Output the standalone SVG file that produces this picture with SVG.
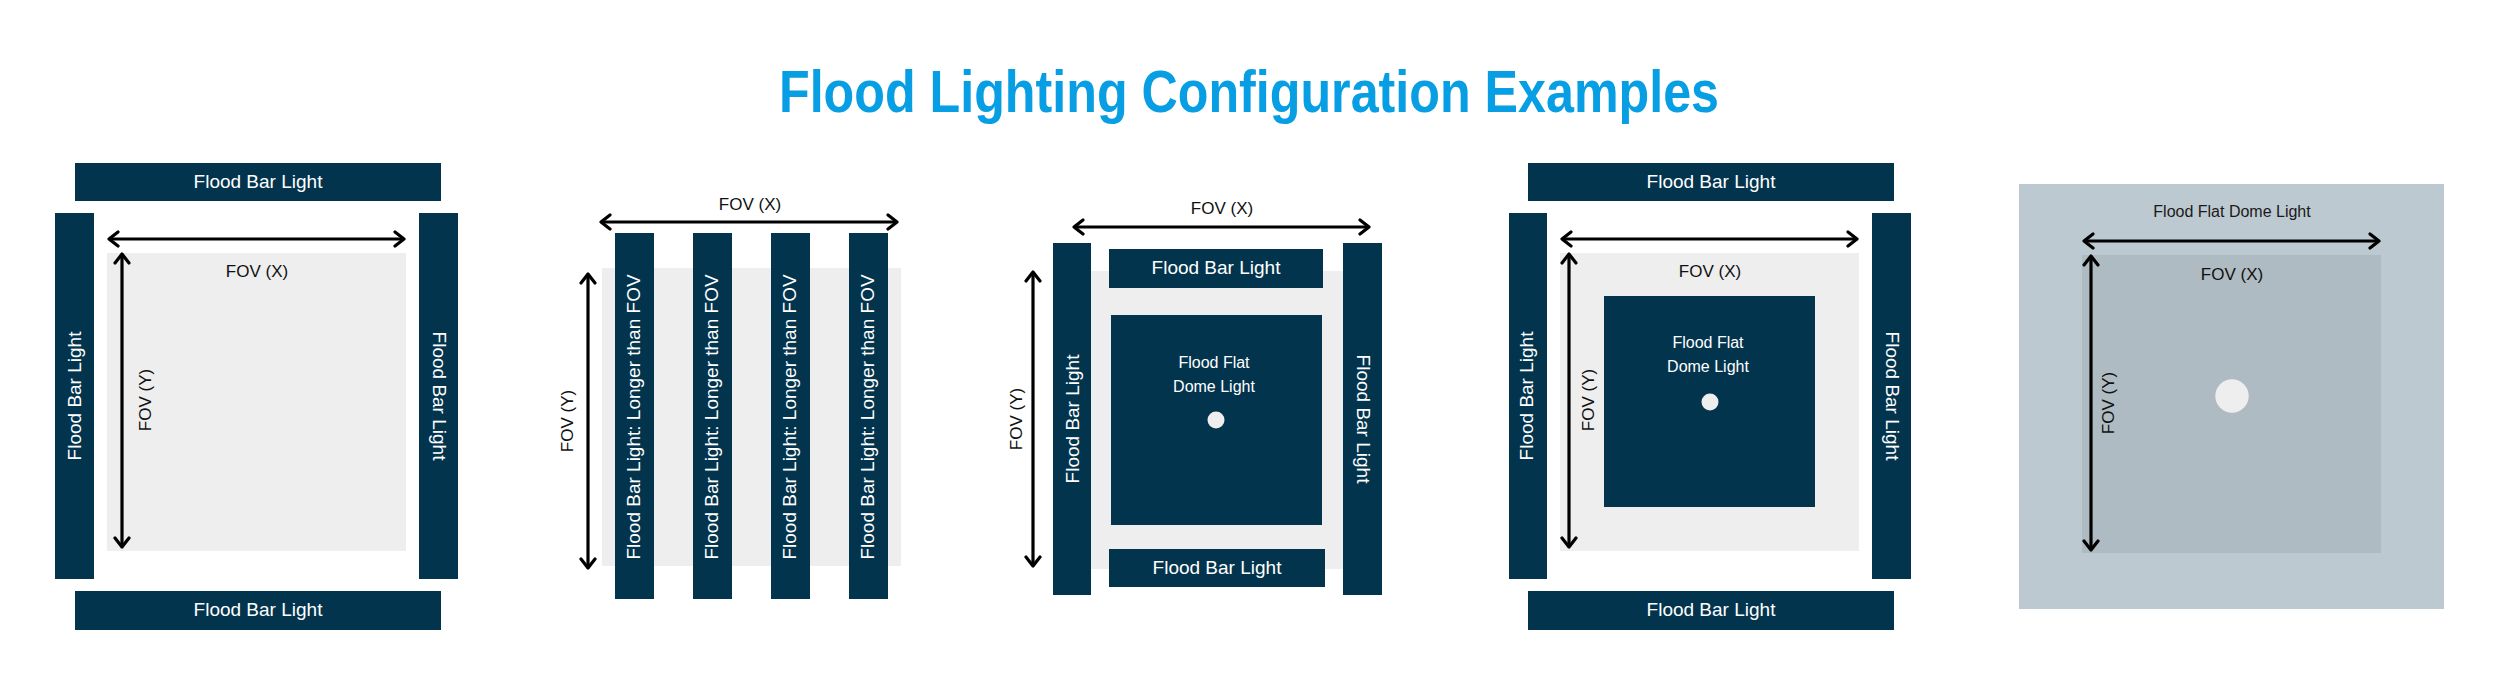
<svg xmlns="http://www.w3.org/2000/svg" width="2500" height="694" viewBox="0 0 2500 694">
<style>
.bar{fill:#02344e}
.fov{fill:#eeeeee}
.bt{font-family:"Liberation Sans",Arial,sans-serif;font-size:19px;fill:#ffffff;text-anchor:middle}
.dt{font-family:"Liberation Sans",Arial,sans-serif;font-size:16px;fill:#ffffff;text-anchor:middle}
.lt{font-family:"Liberation Sans",Arial,sans-serif;font-size:17px;fill:#111111;text-anchor:middle}
.arr{stroke:#000000;stroke-width:3.2;fill:none;marker-start:url(#ah);marker-end:url(#ah)}
.dot{fill:#eeeeee}
.title{font-family:"Liberation Sans",Arial,sans-serif;font-weight:bold;font-size:60px;fill:#079ee3;text-anchor:middle}
</style>
<defs>
<marker id="ah" markerUnits="userSpaceOnUse" viewBox="-12 -9 14 18" refX="0" refY="0" markerWidth="14" markerHeight="18" orient="auto-start-reverse">
<path d="M-9,-7 L0,0 L-9,7" fill="none" stroke="#000000" stroke-width="3.2" stroke-linecap="round" stroke-linejoin="round"/>
</marker>
</defs>
<rect width="2500" height="694" fill="#ffffff"/>
<text class="title" x="1249" y="112" textLength="940" lengthAdjust="spacingAndGlyphs">Flood Lighting Configuration Examples</text>

<!-- Panel 1 -->
<g id="p1-fov"><rect class="fov" x="107" y="253" width="299" height="298"/></g>
<g id="p1-top"><rect class="bar" x="75" y="163" width="366" height="38"/><text class="bt" x="258" y="188">Flood Bar Light</text></g>
<g id="p1-bottom"><rect class="bar" x="75" y="591" width="366" height="39"/><text class="bt" x="258" y="616">Flood Bar Light</text></g>
<g id="p1-left"><rect class="bar" x="55" y="213" width="39" height="366"/><text class="bt" transform="translate(81,396) rotate(-90)">Flood Bar Light</text></g>
<g id="p1-right"><rect class="bar" x="419" y="213" width="39" height="366"/><text class="bt" transform="translate(433,396) rotate(90)">Flood Bar Light</text></g>
<g id="p1-labels"><text class="lt" x="257" y="277">FOV (X)</text><text class="lt" transform="translate(151,400) rotate(-90)">FOV (Y)</text></g>

<!-- Panel 2 -->
<g id="p2-fov"><rect class="fov" x="602" y="268" width="299" height="298"/></g>
<g id="p2-bar1"><rect class="bar" x="615" y="233" width="39" height="366"/><text class="bt" transform="translate(640,417) rotate(-90)">Flood Bar Light: Longer than FOV</text></g>
<g id="p2-bar2"><rect class="bar" x="693" y="233" width="39" height="366"/><text class="bt" transform="translate(718,417) rotate(-90)">Flood Bar Light: Longer than FOV</text></g>
<g id="p2-bar3"><rect class="bar" x="771" y="233" width="39" height="366"/><text class="bt" transform="translate(796,417) rotate(-90)">Flood Bar Light: Longer than FOV</text></g>
<g id="p2-bar4"><rect class="bar" x="849" y="233" width="39" height="366"/><text class="bt" transform="translate(874,417) rotate(-90)">Flood Bar Light: Longer than FOV</text></g>
<g id="p2-labels"><text class="lt" x="750" y="210">FOV (X)</text><text class="lt" transform="translate(573,421) rotate(-90)">FOV (Y)</text></g>

<!-- Panel 3 -->
<g id="p3-fov"><rect class="fov" x="1072" y="271" width="299" height="298"/></g>
<g id="p3-left"><rect class="bar" x="1053" y="243" width="38" height="352"/><text class="bt" transform="translate(1079,419) rotate(-90)">Flood Bar Light</text></g>
<g id="p3-right"><rect class="bar" x="1343" y="243" width="39" height="352"/><text class="bt" transform="translate(1357,419) rotate(90)">Flood Bar Light</text></g>
<g id="p3-top"><rect class="bar" x="1109" y="249" width="214" height="39"/><text class="bt" x="1216" y="274">Flood Bar Light</text></g>
<g id="p3-bottom"><rect class="bar" x="1109" y="549" width="216" height="38"/><text class="bt" x="1217" y="574">Flood Bar Light</text></g>
<g id="p3-dome"><rect class="bar" x="1111" y="315" width="211" height="210"/><text class="dt" x="1214" y="368">Flood Flat</text><text class="dt" x="1214" y="392">Dome Light</text><circle class="dot" cx="1216" cy="420" r="8.5"/></g>
<g id="p3-labels"><text class="lt" x="1222" y="214">FOV (X)</text><text class="lt" transform="translate(1022,419) rotate(-90)">FOV (Y)</text></g>

<!-- Panel 4 -->
<g id="p4-fov"><rect class="fov" x="1560" y="253" width="299" height="298"/></g>
<g id="p4-top"><rect class="bar" x="1528" y="163" width="366" height="38"/><text class="bt" x="1711" y="188">Flood Bar Light</text></g>
<g id="p4-bottom"><rect class="bar" x="1528" y="591" width="366" height="39"/><text class="bt" x="1711" y="616">Flood Bar Light</text></g>
<g id="p4-left"><rect class="bar" x="1509" y="213" width="38" height="366"/><text class="bt" transform="translate(1533,396) rotate(-90)">Flood Bar Light</text></g>
<g id="p4-right"><rect class="bar" x="1872" y="213" width="39" height="366"/><text class="bt" transform="translate(1886,396) rotate(90)">Flood Bar Light</text></g>
<g id="p4-dome"><rect class="bar" x="1604" y="296" width="211" height="211"/><text class="dt" x="1708" y="348">Flood Flat</text><text class="dt" x="1708" y="372">Dome Light</text><circle class="dot" cx="1710" cy="402" r="8.5"/></g>
<g id="p4-labels"><text class="lt" x="1710" y="277">FOV (X)</text><text class="lt" transform="translate(1594,400) rotate(-90)">FOV (Y)</text></g>

<!-- Panel 5 -->
<g id="p5-dome"><rect x="2019" y="184" width="425" height="425" fill="#bdc9d0"/><text class="dt" x="2232" y="217" style="fill:#1a1a1a">Flood Flat Dome Light</text></g>
<g id="p5-fov"><rect x="2082" y="255" width="299" height="298" fill="#afbbc2"/><circle class="dot" cx="2232" cy="396" r="16.7"/></g>
<g id="p5-labels"><text class="lt" x="2232" y="280">FOV (X)</text><text class="lt" transform="translate(2114,403) rotate(-90)">FOV (Y)</text></g>

<g id="connectors">
<line class="arr" x1="109" y1="239" x2="404" y2="239"/>
<line class="arr" x1="122" y1="254" x2="122" y2="547"/>
<line class="arr" x1="601" y1="222" x2="897" y2="222"/>
<line class="arr" x1="588" y1="274" x2="588" y2="568"/>
<line class="arr" x1="1074" y1="227" x2="1369" y2="227"/>
<line class="arr" x1="1033" y1="272" x2="1033" y2="566"/>
<line class="arr" x1="1562" y1="239" x2="1857" y2="239"/>
<line class="arr" x1="1569" y1="254" x2="1569" y2="547"/>
<line class="arr" x1="2084" y1="241" x2="2379" y2="241"/>
<line class="arr" x1="2091" y1="256" x2="2091" y2="550"/>
</g>
</svg>
